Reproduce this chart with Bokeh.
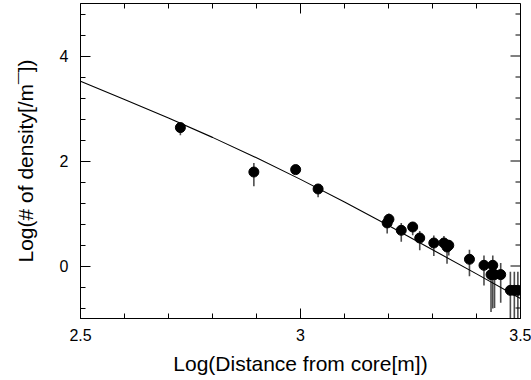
import math
from bokeh.plotting import figure
from bokeh.models import Range1d, FixedTicker, ColumnDataSource
from bokeh.embed import file_html
from bokeh.resources import INLINE

# ---- data ----
dist_log = [2.727, 2.894, 2.989, 3.040, 3.197, 3.201, 3.229, 3.255, 3.271, 3.303, 3.326,
            3.333, 3.337, 3.384, 3.417, 3.437, 3.433, 3.441, 3.455, 3.477, 3.486, 3.494]
dens_log = [2.636, 1.79, 1.836, 1.467, 0.82, 0.89, 0.68, 0.743, 0.533, 0.438, 0.438,
            0.362, 0.394, 0.128, 0.013, 0.013, -0.164, -0.164, -0.164, -0.463, -0.463, -0.463]
err_low = [2.49, 1.52, 1.78, 1.31, 0.62, 0.79, 0.46, 0.585, 0.30, 0.19, 0.30,
           0.045, 0.20, -0.196, -0.37, -0.81, -0.875, -0.80, -0.70, -1.1, -1.1, -1.1]
err_high = [2.73, 1.96, 1.89, 1.56, 0.92, 1.0, 0.82, 0.84, 0.667, 0.58, 0.57,
            0.47, 0.50, 0.31, 0.20, 0.20, 0.02, 0.02, 0.057, -0.11, -0.11, -0.11]

fit_x = [2.5, 2.6, 2.7, 2.8, 2.9, 3.0, 3.1, 3.2, 3.3, 3.4, 3.5]
fit_y = [3.52, 3.17, 2.82, 2.45, 2.06, 1.65, 1.22, 0.77, 0.31, -0.15, -0.62]

x_lim = (2.5, 3.5)
y_lim = (-1, 5)
x_major = [2.5, 3.0, 3.5]
x_minor = [2.6, 2.7, 2.8, 2.9, 3.1, 3.2, 3.3, 3.4]
y_major = [0, 2, 4]
y_minor = [-0.8, -0.4, 0.4, 0.8, 1.2, 1.6, 2.4, 2.8, 3.2, 3.6, 4.4, 4.8]

FONT = "Liberation Sans"

p = figure(width=531, height=380, output_backend="svg", toolbar_location=None,
           x_range=Range1d(*x_lim), y_range=Range1d(*y_lim),
           min_border_left=80, min_border_right=11, min_border_top=3, min_border_bottom=62,
           x_axis_label="Log(Distance from core[m])",
           y_axis_label="Log(# of density[/m¯])")
p.grid.visible = False
p.outline_line_color = "black"
p.outline_line_width = 1
p.background_fill_color = "white"
p.border_fill_color = "white"

src = ColumnDataSource(dict(x=dist_log, y=dens_log, lo=err_low, hi=err_high))
p.segment(x0="x", y0="lo", x1="x", y1="hi", source=src, line_color="#4d4d4d", line_width=1.6)
p.line(fit_x, fit_y, line_color="black", line_width=1.1)
p.scatter("x", "y", source=src, size=10, fill_color="black", line_color="black")

# inward ticks on the top and right frame edges (half of each dash is clipped by the frame)
p.scatter(x_major, [y_lim[1]] * len(x_major), marker="dash", angle=math.pi / 2, size=20,
          line_color="black", line_width=1)
p.scatter(x_minor, [y_lim[1]] * len(x_minor), marker="dash", angle=math.pi / 2, size=10,
          line_color="black", line_width=1)
p.scatter([x_lim[1]] * len(y_major), y_major, marker="dash", size=20,
          line_color="black", line_width=1)
p.scatter([x_lim[1]] * len(y_minor), y_minor, marker="dash", size=10,
          line_color="black", line_width=1)

for ax, ticker in ((p.xaxis[0], FixedTicker(ticks=x_major, minor_ticks=x_minor)),
                   (p.yaxis[0], FixedTicker(ticks=y_major, minor_ticks=y_minor))):
    ax.ticker = ticker
    ax.major_tick_in = 10
    ax.major_tick_out = 0
    ax.minor_tick_in = 5
    ax.minor_tick_out = 0
    ax.axis_line_color = "black"
    ax.major_tick_line_color = "black"
    ax.minor_tick_line_color = "black"
    ax.major_label_text_font = FONT
    ax.major_label_text_font_size = "16px"
    ax.major_label_text_color = "black"
    ax.axis_label_text_font = FONT
    ax.axis_label_text_font_size = "21px"
    ax.axis_label_text_font_style = "normal"
    ax.axis_label_text_color = "black"

p.xaxis[0].major_label_standoff = 10
p.xaxis[0].axis_label_standoff = 8
p.yaxis[0].major_label_standoff = 12
p.yaxis[0].axis_label_standoff = 20

open("out.html", "w").write(file_html(p, INLINE))
